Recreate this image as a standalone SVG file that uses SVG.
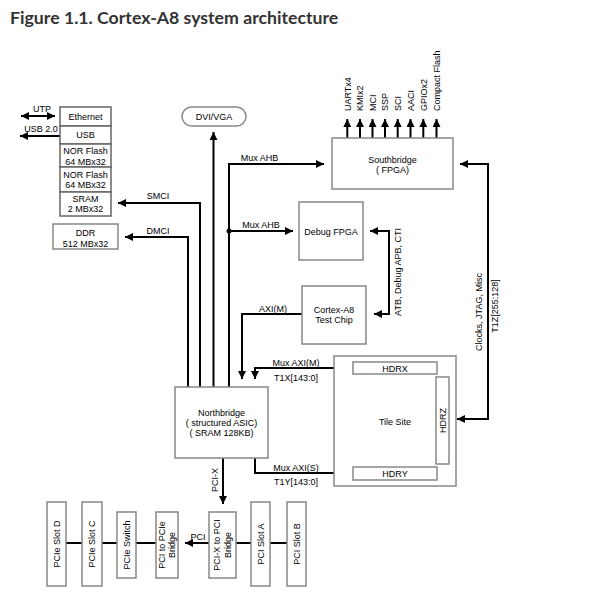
<svg xmlns="http://www.w3.org/2000/svg" width="601" height="594" viewBox="0 0 601 594">
<style>
.t{font-family:"Liberation Sans",Arial,sans-serif;font-size:9px;fill:#000;text-anchor:middle}
.ts{font-family:"Liberation Sans",Arial,sans-serif;font-size:9px;fill:#000;text-anchor:start}
.box{fill:#fff;stroke:#888;stroke-width:1.5}
.sbox{fill:#fff;stroke:#666;stroke-width:1.5}
.c{fill:none;stroke:#000;stroke-width:2}
.title{font-family:Lato,"Liberation Sans",sans-serif;font-weight:bold;font-size:17.7px;fill:#333}
</style>
<defs>
<marker id="ah" viewBox="0 0 10 10" refX="10" refY="5" markerWidth="9" markerHeight="8" markerUnits="userSpaceOnUse" orient="auto-start-reverse">
<path d="M0,0 L10,5 L0,10 z" fill="#000"/>
</marker>
</defs>
<rect width="601" height="594" fill="#fff"/>
<text class="title" x="10" y="24">Figure 1.1. Cortex-A8 system architecture</text>

<g id="connectors">
<path class="c" d="M21,116 H55" marker-start="url(#ah)" marker-end="url(#ah)"/>
<path class="c" d="M60,136 H20" marker-end="url(#ah)"/>
<path class="c" d="M200,387 V203 H118" marker-end="url(#ah)"/>
<path class="c" d="M188,387 V237 H125" marker-end="url(#ah)"/>
<path class="c" d="M213.5,387 V132" marker-end="url(#ah)"/>
<path class="c" d="M229,387 V164 H324" marker-end="url(#ah)"/>
<path class="c" d="M229,231 H293" marker-end="url(#ah)"/>
<circle cx="229" cy="231" r="2.5" fill="#000"/>
<path class="c" d="M347.3,138 V119" marker-end="url(#ah)"/>
<path class="c" d="M360,138 V119" marker-end="url(#ah)"/>
<path class="c" d="M372.5,138 V119" marker-end="url(#ah)"/>
<path class="c" d="M385,138 V119" marker-end="url(#ah)"/>
<path class="c" d="M397.7,138 V119" marker-end="url(#ah)"/>
<path class="c" d="M410.5,138 V119" marker-end="url(#ah)"/>
<path class="c" d="M423.3,138 V119" marker-end="url(#ah)"/>
<path class="c" d="M436.5,138 V119" marker-end="url(#ah)"/>
<path class="c" d="M460,164 H488 V419 H457" marker-start="url(#ah)" marker-end="url(#ah)"/>
<path class="c" d="M370,231 H389 V314 H374" marker-start="url(#ah)" marker-end="url(#ah)"/>
<path class="c" d="M302,314 H242 V379" marker-end="url(#ah)"/>
<path class="c" d="M353,368 H255 V379" marker-end="url(#ah)"/>
<path class="c" d="M255,458 V473 H347" marker-end="url(#ah)"/>
<path class="c" d="M223,458 V504" marker-end="url(#ah)"/>
<path class="c" d="M210,543 H185" marker-end="url(#ah)"/>
<path class="c" d="M66,543 H82 M102,543 H117 M136,543 H156 M236,543 H251 M270,543 H287"/>
</g>

<g id="labels">
<text class="t" x="42" y="111.5">UTP</text>
<text class="t" x="41" y="131.5">USB 2.0</text>
<text class="t" x="158" y="199">SMCI</text>
<text class="t" x="158" y="234">DMCI</text>
<text class="t" x="259.5" y="161">Mux AHB</text>
<text class="t" x="261" y="227.5">Mux AHB</text>
<text class="t" x="273" y="311.5">AXI(M)</text>
<text class="t" x="296" y="365.5">Mux AXI(M)</text>
<text class="t" x="296" y="380.5">T1X[143:0]</text>
<text class="t" x="296" y="470.5">Mux AXI(S)</text>
<text class="t" x="296" y="484.5">T1Y[143:0]</text>
<text class="t" x="198" y="540">PCI</text>
<text class="t" transform="translate(215,480) rotate(-90)" y="3.3">PCI-X</text>
<text class="t" transform="translate(398,272) rotate(-90)" y="3.3">ATB, Debug APB, CTI</text>
<text class="t" transform="translate(479,312) rotate(-90)" y="3.3">Clocks, JTAG, Misc</text>
<text class="t" transform="translate(495,306) rotate(-90)" y="3.3">T1Z[255:128]</text>
<text class="ts" transform="translate(347.3,111) rotate(-90)" y="3.3">UARTx4</text>
<text class="ts" transform="translate(360,111) rotate(-90)" y="3.3">KMIx2</text>
<text class="ts" transform="translate(372.5,111) rotate(-90)" y="3.3">MCI</text>
<text class="ts" transform="translate(385,111) rotate(-90)" y="3.3">SSP</text>
<text class="ts" transform="translate(397.7,111) rotate(-90)" y="3.3">SCI</text>
<text class="ts" transform="translate(410.5,111) rotate(-90)" y="3.3">AACI</text>
<text class="ts" transform="translate(423.3,111) rotate(-90)" y="3.3">GPIOx2</text>
<text class="ts" transform="translate(436.5,111) rotate(-90)" y="3.3">Compact Flash</text>
</g>

<g id="ethernet"><rect class="sbox" x="60" y="107" width="51" height="19"/><text class="t" x="85.5" y="119.5">Ethernet</text></g>
<g id="usb"><rect class="sbox" x="60" y="126" width="51" height="18"/><text class="t" x="85.5" y="138">USB</text></g>
<g id="norflash1"><rect class="sbox" x="60" y="144" width="51" height="23"/><text class="t" x="85.5" y="154">NOR Flash</text><text class="t" x="85.5" y="164.5">64 MBx32</text></g>
<g id="norflash2"><rect class="sbox" x="60" y="167" width="51" height="25"/><text class="t" x="85.5" y="177.5">NOR Flash</text><text class="t" x="85.5" y="187.5">64 MBx32</text></g>
<g id="sram"><rect class="sbox" x="60" y="192" width="51" height="24"/><text class="t" x="85.5" y="201.5">SRAM</text><text class="t" x="85.5" y="211.5">2 MBx32</text></g>
<g id="ddr"><rect class="box" x="53" y="224" width="65" height="25"/><text class="t" x="85.5" y="235.5">DDR</text><text class="t" x="85.5" y="246.5">512 MBx32</text></g>
<g id="dvivga"><rect class="box" x="182" y="107" width="64" height="19" rx="9.5"/><text class="t" x="214" y="119.5">DVI/VGA</text></g>
<g id="southbridge"><rect class="box" x="332" y="138" width="121" height="51"/><text class="t" x="392.5" y="162.5">Southbridge</text><text class="t" x="392.5" y="172.5">( FPGA)</text></g>
<g id="debugfpga"><rect class="box" x="299" y="202" width="64" height="58"/><text class="t" x="331" y="234.5">Debug FPGA</text></g>
<g id="cortexa8"><rect class="box" x="302" y="286" width="64" height="58"/><text class="t" x="334" y="312.5">Cortex-A8</text><text class="t" x="334" y="322.5">Test Chip</text></g>
<g id="northbridge"><rect class="box" x="175" y="387" width="93" height="71"/><text class="t" x="221.5" y="415.5">Northbridge</text><text class="t" x="221.5" y="425.5">( structured ASIC)</text><text class="t" x="221.5" y="435.5">( SRAM 128KB)</text></g>
<g id="tilesite"><rect class="box" x="334" y="356" width="122" height="130"/><text class="t" x="395" y="424.5">Tile Site</text>
<rect class="box" x="353" y="362" width="84" height="12"/><text class="t" x="395" y="371.5">HDRX</text>
<rect class="box" x="353" y="467" width="84" height="13"/><text class="t" x="395" y="476.5">HDRY</text>
<rect class="box" x="436" y="377" width="13" height="87"/><text class="t" transform="translate(443,420.5) rotate(-90)" y="3.3">HDRZ</text></g>
<g id="pcieslotd"><rect class="box" x="47" y="502" width="19" height="84"/><text class="t" transform="translate(56.5,544) rotate(-90)" y="3.3">PCIe Slot D</text></g>
<g id="pcieslotc"><rect class="box" x="82" y="502" width="20" height="84"/><text class="t" transform="translate(92,544) rotate(-90)" y="3.3">PCIe Slot C</text></g>
<g id="pcieswitch"><rect class="box" x="117" y="512" width="19" height="66"/><text class="t" transform="translate(126.5,545) rotate(-90)" y="3.3">PCIe Switch</text></g>
<g id="pcitopcie"><rect class="box" x="156" y="512" width="22" height="66"/><text class="t" transform="translate(162,545) rotate(-90)" y="3.3">PCI to PCIe</text><text class="t" transform="translate(172,545) rotate(-90)" y="3.3">Bridge</text></g>
<g id="pcixtopci"><rect class="box" x="209" y="512" width="27" height="66"/><text class="t" transform="translate(217,545) rotate(-90)" y="3.3">PCI-X to PCI</text><text class="t" transform="translate(228,545) rotate(-90)" y="3.3">Bridge</text></g>
<g id="pcislota"><rect class="box" x="251" y="502" width="19" height="84"/><text class="t" transform="translate(260.5,544) rotate(-90)" y="3.3">PCI Slot A</text></g>
<g id="pcislotb"><rect class="box" x="287" y="502" width="19" height="84"/><text class="t" transform="translate(296.5,544) rotate(-90)" y="3.3">PCI Slot B</text></g>
</svg>
